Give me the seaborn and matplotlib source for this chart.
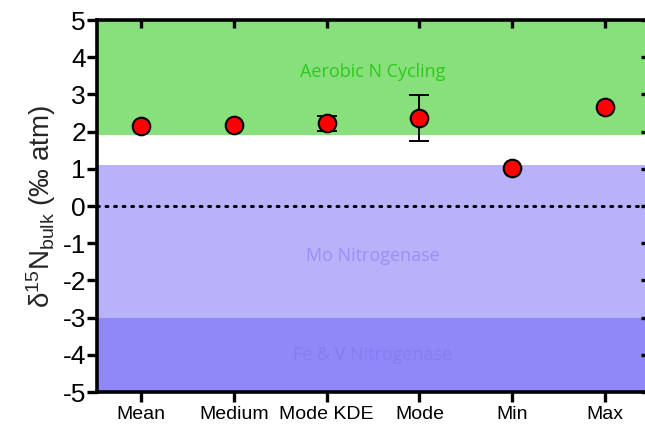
import numpy as np
import pandas as pd
import seaborn as sns
import matplotlib
matplotlib.use("Agg")
import matplotlib.pyplot as plt
from matplotlib import rcParams

# values
stats = ["Mean", "Medium", "Mode KDE", "Mode", "Min", "Max"]
d15n = [2.14, 2.17, 2.22, 2.37, 1.02, 2.65]
err = [0, 0, 0.21, 0.62, 0, 0]

# interpretation bands (lower, upper, colour, label, label y)
band_lo = [1.91, -3, -5]
band_hi = [5, 1.10, -3]
band_col = ["#88E07C", "#B8B2FB", "#9088F9"]
band_txt = ["Aerobic N Cycling", "Mo Nitrogenase", "Fe & V Nitrogenase"]
band_txt_col = ["#2EC81E", "#9A90F6", "#867CF3"]
band_txt_y = [3.6, -1.35, -4.0]

sns.set_style("ticks")
rcParams['font.family'] = ['Liberation Sans', 'DejaVu Sans']
rcParams['mathtext.fontset'] = 'custom'
rcParams['mathtext.rm'] = 'Liberation Sans'
rcParams['mathtext.it'] = 'Liberation Sans:italic'
rcParams['axes.unicode_minus'] = False

df = pd.DataFrame({"stat": stats, "d15n": d15n, "err": err})

fig = plt.figure(figsize=(6.45, 4.24), dpi=100)
ax = fig.add_axes([97/645, 1 - 392/424, 552/645, 372/424])

for lo, hi, c in zip(band_lo, band_hi, band_col):
    ax.axhspan(lo, hi, color=c, lw=0, zorder=0)
for t, c, y in zip(band_txt, band_txt_col, band_txt_y):
    ax.text(2.5, y, t, color=c, ha="center", va="center", fontsize=13,
            family=["Open Sans", "DejaVu Sans"], zorder=1)

ax.axhline(0, color="black", ls=(0, (0.6, 2.2)), lw=2.2, dash_capstyle="round", zorder=2)

e = df[df["err"] > 0]
ax.errorbar(e["stat"].map(stats.index), e["d15n"], yerr=e["err"], fmt="none",
            ecolor="black", elinewidth=1.4, capsize=7, capthick=1.4, zorder=3)
sns.scatterplot(data=df, x="stat", y="d15n", ax=ax, color="#FF0000", s=160,
                edgecolor="black", linewidth=1.5, zorder=4, legend=False)

ax.set_xlim(-0.475, 5.475)
ax.set_ylim(-5, 5)
ax.set_yticks(range(-5, 6))
ax.set_xlabel("")
ax.set_ylabel("δ$^{15}$N$_{\\mathrm{bulk}}$ (‰ atm)", fontsize=20, labelpad=3)

for s in ax.spines.values():
    s.set_linewidth(2.6)
    s.set_color("black")
    s.set_visible(True)
ax.tick_params(axis="y", labelsize=19, length=7, width=2.4, pad=1, color="black",
               labelcolor="black")
ax.tick_params(axis="x", labelsize=14, length=7, width=2.4, pad=3, color="black",
               labelcolor="black")
sec = ax.secondary_xaxis("top")
sec.set_xticks(range(len(stats)))
sec.tick_params(direction="in", length=6, width=2.4, labeltop=False, color="black")
sec.spines["top"].set_visible(False)
secy = ax.secondary_yaxis("right")
secy.set_yticks(range(-5, 6))
secy.tick_params(direction="in", length=6, width=2.4, labelright=False, color="black")
secy.spines["right"].set_visible(False)

fig.savefig("out.png", dpi=100)
